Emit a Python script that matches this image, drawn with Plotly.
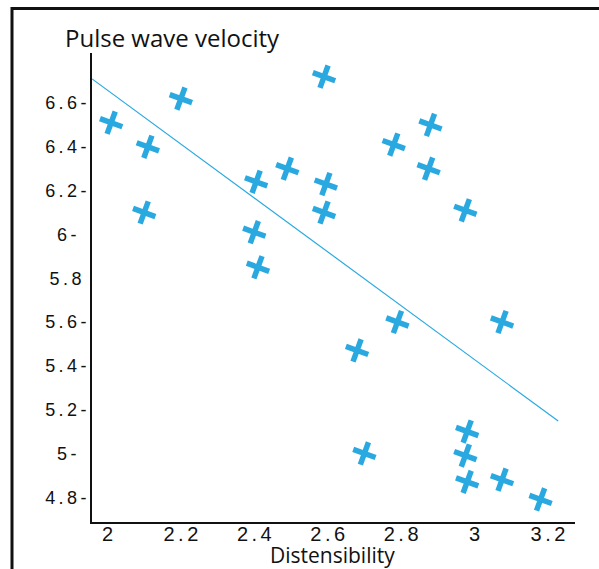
import plotly.graph_objects as go

# ---- data ----
distensibility = [2.01, 2.11, 2.10, 2.20, 2.40, 2.405, 2.41, 2.49, 2.59, 2.595, 2.59, 2.68,
                  2.70, 2.78, 2.79, 2.88, 2.875, 2.975, 2.98, 2.975, 2.98, 3.075, 3.075, 3.18]
pwv = [6.51, 6.40, 6.10, 6.62, 6.01, 6.24, 5.85, 6.30, 6.72, 6.23, 6.10, 5.47,
       5.00, 6.41, 5.60, 6.50, 6.30, 6.11, 5.10, 4.99, 4.87, 5.60, 4.88, 4.79]

trend_x = [1.958, 3.228]
trend_y = [6.71, 5.148]

x_tickvals = [2, 2.2, 2.4, 2.6, 2.8, 3, 3.2]
x_ticklabels = ["2", "2.2", "2.4", "2.6", "2.8", "3", "3.2"]
y_tickvals = [4.8, 5.0, 5.2, 5.4, 5.6, 5.8, 6.0, 6.2, 6.4, 6.6]
y_ticklabels = ["4.8-", "5-", "5.2-", "5.4-", "5.6-", "5.8", "6-", "6.2-", "6.4-", "6.6-"]
x_title = "Distensibility"
y_title = "Pulse wave velocity"

NB = "\u00a0"   # no-break space (centering pad)


def tracked(s, sp):
    # letter-spacing on every character but the last (no trailing gap)
    if len(s) < 2:
        return s
    return '<span style="letter-spacing:%spx">%s</span>%s' % (sp, s[:-1], s[-1])


y_ticktext = [tracked(s, 3.4) + NB * (4 - len(s)) for s in y_ticklabels]
x_ticktext = [tracked(s, 3.5) for s in x_ticklabels]

BLUE = "#2aa9e0"

W, H = 599, 569
L, R, T, B = 92, 599 - 575, 53, 569 - 522
PW, PH = W - L - R, H - T - B


def px_x(p):
    return (p - L) / PW


def px_y(p):
    return (H - B - p) / PH


fig = go.Figure()
fig.add_trace(go.Scatter(x=trend_x, y=trend_y, mode="lines",
                         line=dict(color=BLUE, width=1.2), hoverinfo="skip", showlegend=False))
fig.add_trace(go.Scatter(x=distensibility, y=pwv, mode="markers",
                         marker=dict(symbol="cross-thin", size=17, angle=20,
                                     line=dict(color=BLUE, width=5.5), color=BLUE),
                         showlegend=False))

fig.update_layout(
    width=W, height=H, autosize=False,
    margin=dict(l=L, r=R, t=T, b=B, pad=0, autoexpand=False),
    paper_bgcolor="white", plot_bgcolor="white",
    font=dict(family="Liberation Sans, Arial, sans-serif", color="#111"),
    xaxis=dict(range=[1.9578, 3.2738], showgrid=False, zeroline=False, automargin=False,
               showline=True, linecolor="#111", linewidth=2,
               tickmode="array", tickvals=x_tickvals, ticktext=x_ticktext,
               ticks="", tickfont=dict(size=20, family="Liberation Sans, Arial, sans-serif", color="#111"),
               ticklabelstandoff=-7),
    yaxis=dict(range=[4.6868, 6.8283], showgrid=False, zeroline=False, automargin=False,
               showline=True, linecolor="#111", linewidth=2,
               tickmode="array", tickvals=y_tickvals, ticktext=y_ticktext,
               ticks="", tickfont=dict(size=18, family="Liberation Sans, Arial, sans-serif", color="#111"),
               ticklabelstandoff=0),
    annotations=[
        dict(text=y_title, xref="paper", yref="paper",
             x=px_x(63), y=px_y(37), xanchor="left", yanchor="middle",
             showarrow=False,
             font=dict(family="Open Sans, sans-serif", size=24, color="#111")),
        dict(text=x_title, xref="paper", yref="paper",
             x=px_x(332), y=px_y(555), xanchor="center", yanchor="middle",
             showarrow=False,
             font=dict(family="Open Sans, sans-serif", size=21, color="#111")),
    ],
    shapes=[
        dict(type="line", xref="paper", yref="paper", x0=px_x(11), x1=px_x(605),
             y0=px_y(8.5), y1=px_y(8.5), line=dict(color="#111", width=3)),
        dict(type="line", xref="paper", yref="paper", x0=px_x(12), x1=px_x(12),
             y0=px_y(7), y1=px_y(575), line=dict(color="#111", width=3)),
    ],
)

fig.write_html("out.html", config={"displayModeBar": False},
               post_script="document.body.style.margin='0';document.body.style.overflow='hidden';")
